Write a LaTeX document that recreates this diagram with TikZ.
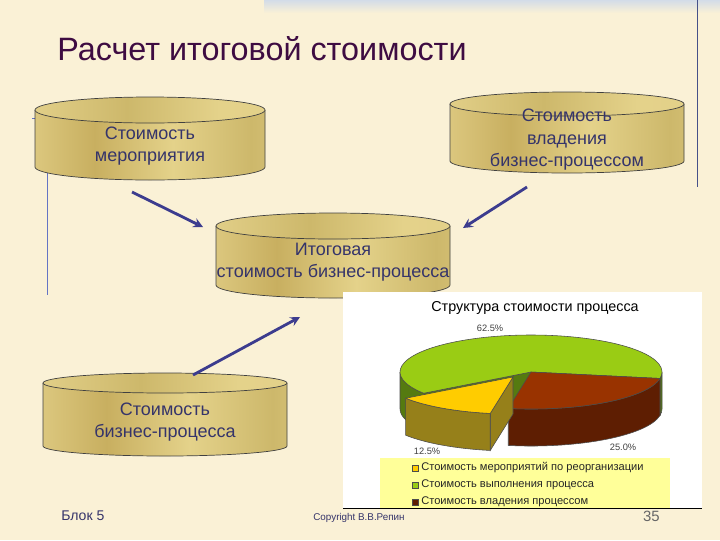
\documentclass[tikz,border=0pt]{standalone}
\usepackage{fontspec}
\setmainfont{Liberation Sans}
\usetikzlibrary{calc}

\definecolor{bgcream}{HTML}{FAF1D6}
\definecolor{bandblue}{HTML}{D3DCE8}
\definecolor{titlepurple}{HTML}{3E0C42}
\definecolor{txtblue}{HTML}{35346A}
\definecolor{arrblue}{HTML}{3C3C8E}
\definecolor{thinblue}{HTML}{6474C4}
\definecolor{gA}{HTML}{B59C47}
\definecolor{gB}{HTML}{E6D48E}
\definecolor{gC}{HTML}{C8AF60}
\definecolor{gD}{HTML}{E4D28A}
\definecolor{gE}{HTML}{CDB86B}
\definecolor{gF}{HTML}{E2CF88}
\definecolor{piegreen}{HTML}{9ACC14}
\definecolor{piegreendk}{HTML}{557A10}
\definecolor{pieyellow}{HTML}{FFCC00}
\definecolor{pieyellowdk}{HTML}{96801A}
\definecolor{piebrown}{HTML}{993300}
\definecolor{piebrowndk}{HTML}{5E1E02}
\definecolor{legendyellow}{HTML}{FFFF99}

\pgfdeclarehorizontalshading{goldbody}{100bp}{color(0bp)=(gA); color(18bp)=(gB); color(38bp)=(gC); color(55bp)=(gD); color(72bp)=(gE); color(88bp)=(gF); color(100bp)=(gA)}
\pgfdeclarehorizontalshading{goldtop}{100bp}{color(0bp)=(gC); color(20bp)=(gB); color(45bp)=(gE); color(65bp)=(gD); color(85bp)=(gF); color(100bp)=(gC)}

% barrel: cx, top y, x radius, y radius, height
\newcommand{\barrel}[5]{%
  \shade[shading=goldbody] (#1-#3,#2) -- (#1-#3,#2+#5) arc[start angle=180,end angle=0,x radius=#3,y radius=#4] -- (#1+#3,#2) -- cycle;
  \draw[barrelline] (#1-#3,#2) -- (#1-#3,#2+#5) arc[start angle=180,end angle=0,x radius=#3,y radius=#4] -- (#1+#3,#2);
  \shade[shading=goldtop] (#1,#2) ellipse[x radius=#3,y radius=#4];
  \draw[barrelline] (#1,#2) ellipse[x radius=#3,y radius=#4];}

\begin{document}
\begin{tikzpicture}[x=0.025cm,y=-0.025cm]
		\tikzstyle{barrelline}=[draw=black!75,line width=0.5pt]
		\tikzstyle{barreltext}=[align=center,text=txtblue,inner sep=0pt,font=\fontsize{12.8}{16}\selectfont]
		\tikzstyle{arr}=[->,>=stealth,draw=arrblue,line width=2pt]
		\tikzstyle{pieline}=[draw=black!70,line width=0.4pt]
		\tikzstyle{legtext}=[anchor=west,inner sep=0pt,text=black!85,font=\fontsize{7.9}{10}\selectfont]
		\tikzstyle{pct}=[inner sep=0pt,text=black!75,font=\fontsize{6.6}{8}\selectfont]
		\fill[bgcream] (0,0) rectangle (720,540);
		\useasboundingbox (0,0) rectangle (720,540);
		\shade[top color=bandblue,bottom color=bgcream] (264,0) rectangle (720,13);
		\draw[thinblue!70!black,line width=0.6pt] (697,0) -- (697,187);
		\draw[thinblue,line width=0.6pt] (32,118) -- (60,118);
		\draw[thinblue,line width=0.6pt] (47,118) -- (47,295);
		\node[anchor=base west,text=titlepurple,inner sep=0pt,font=\fontsize{23}{27}\selectfont](title)at(57,60){Расчет итоговой стоимости};
		\barrel{150}{110}{115}{13}{57}
		\barrel{567}{104}{117}{12}{57}
		\barrel{333}{226}{117}{13}{59}
		\barrel{165}{383}{122}{10}{63}
		\node[barreltext](mer)at(150,146){Стоимость\\мероприятия};
		\node[barreltext](vlad)at(567,140){Стоимость\\владения\\бизнес-процессом};
		\node[barreltext](itog)at(333,262){Итоговая\\стоимость бизнес-процесса};
		\node[barreltext](biz)at(165,422){Стоимость\\бизнес-процесса};
		\draw[arr] ([shift={(-18,46)}]mer.center) -- ([shift={(-130,-35)}]itog.center);
		\draw[arr] ([shift={(-40,47)}]vlad.center) -- ([shift={(130,-34)}]itog.center);
		\draw[arr] ([shift={(28,-47)}]biz.center) -- ([shift={(-33,55)}]itog.center);
		% chart
		\fill[white] (343,292) rectangle (702,508);
		\draw[black,line width=0.6pt] (343,508) -- (702,508);
		\node[inner sep=0pt,text=black,font=\fontsize{10.2}{12}\selectfont](ctitle)at(535,308){Структура стоимости процесса};
		\begin{scope}[shift={(531,372)}]
		\filldraw[fill=piegreendk,pieline] (0,0) -- (145:131 and 37) -- ++(0,37) -- (0,37) -- cycle;
		\filldraw[fill=piegreendk,pieline] (0,0) -- (10:131 and 37) -- ++(0,37) -- (0,37) -- cycle;
		\filldraw[fill=piegreendk,pieline] (145:131 and 37) arc[start angle=145,end angle=180,x radius=131,y radius=37] -- ++(0,37) arc[start angle=180,end angle=145,x radius=131,y radius=37] -- cycle;
		\filldraw[fill=piegreendk,pieline] (0:131 and 37) arc[start angle=0,end angle=10,x radius=131,y radius=37] -- ++(0,37) arc[start angle=10,end angle=0,x radius=131,y radius=37] -- cycle;
		\filldraw[fill=piegreen,pieline] (0,0) -- (145:131 and 37) arc[start angle=145,end angle=370,x radius=131,y radius=37] -- cycle;
		\end{scope}
		\begin{scope}[shift={(531,372)}]
		\filldraw[fill=piebrowndk,pieline] (10:131 and 37) arc[start angle=10,end angle=100,x radius=131,y radius=37] -- ++(0,37) arc[start angle=100,end angle=10,x radius=131,y radius=37] -- cycle;
		\filldraw[fill=piebrown,pieline] (0,0) -- (10:131 and 37) arc[start angle=10,end angle=100,x radius=131,y radius=37] -- cycle;
		\end{scope}
		\begin{scope}[shift={(513,377)}]
		\filldraw[fill=pieyellowdk,pieline] (0,0) -- (100:131 and 37) -- ++(0,37) -- (0,37) -- cycle;
		\filldraw[fill=pieyellowdk,pieline] (100:131 and 37) arc[start angle=100,end angle=145,x radius=131,y radius=37] -- ++(0,37) arc[start angle=145,end angle=100,x radius=131,y radius=37] -- cycle;
		\filldraw[fill=pieyellow,pieline] (0,0) -- (100:131 and 37) arc[start angle=100,end angle=145,x radius=131,y radius=37] -- cycle;
		\end{scope}
		\node[pct](p1)at(490,328){62.5\%};
		\node[pct](p2)at(427,451){12.5\%};
		\node[pct](p3)at(623,447){25.0\%};
		% legend
		\fill[legendyellow] (380,458) rectangle (670,507.5);
		\filldraw[fill=pieyellow,draw=black!70,line width=0.3pt] (412,465) rectangle (418,471);
		\filldraw[fill=piegreen,draw=black!70,line width=0.3pt] (412,482) rectangle (418,488);
		\filldraw[fill=piebrowndk,draw=black!70,line width=0.3pt] (412,499) rectangle (418,505);
		\node[legtext](l1)at(421,468){Стоимость мероприятий по реорганизации};
		\node[legtext](l2)at(421,485){Стоимость выполнения процесса};
		\node[legtext](l3)at(421,502){Стоимость владения процессом};
		% footer
		\node[anchor=west,inner sep=0pt,text=txtblue,font=\fontsize{10}{12}\selectfont](blok)at(61,516){Блок 5};
		\node[anchor=west,inner sep=0pt,text=txtblue,font=\fontsize{7}{8}\selectfont](copy)at(313,518){Copyright В.В.Репин};
		\node[anchor=east,inner sep=0pt,text=black!60,font=\fontsize{10.6}{12}\selectfont](page)at(660,516){35};
\end{tikzpicture}
\end{document}
